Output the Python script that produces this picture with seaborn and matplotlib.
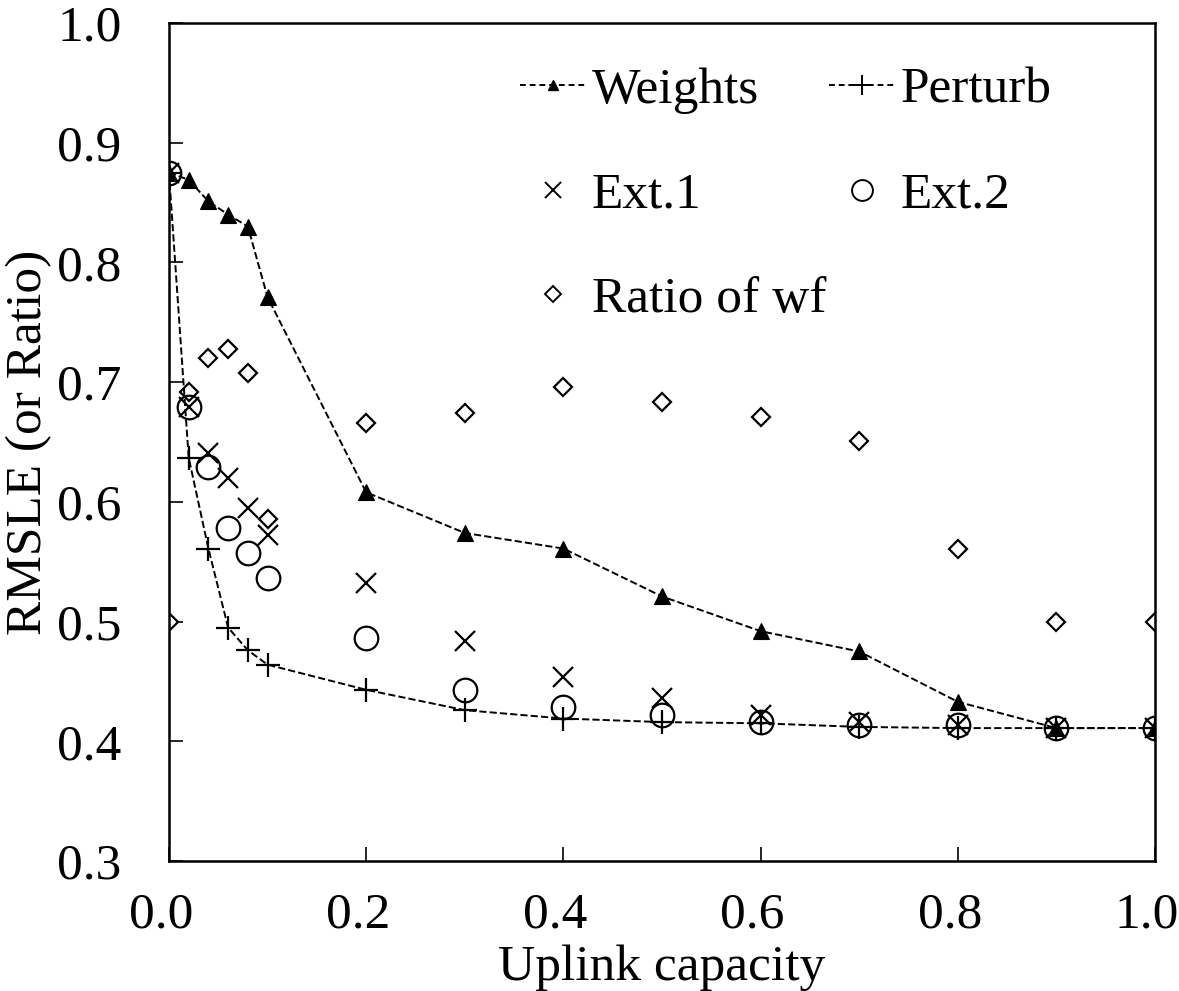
import matplotlib
matplotlib.use("Agg")
import matplotlib.pyplot as plt
import matplotlib.transforms as mtransforms
import seaborn as sns
from matplotlib.lines import Line2D

sns.set_theme(style="white")
plt.rcParams["font.family"] = ["Liberation Serif", "DejaVu Serif"]
plt.rcParams["text.color"] = "black"
plt.rcParams["axes.labelcolor"] = "black"
plt.rcParams["xtick.color"] = "black"
plt.rcParams["ytick.color"] = "black"

# x positions (uplink capacity)
capacity = [0.0, 0.02, 0.04, 0.06, 0.08, 0.1, 0.2, 0.3, 0.4, 0.5, 0.6, 0.7, 0.8, 0.9, 1.0]

weights = [0.875, 0.869, 0.851, 0.840, 0.830, 0.771, 0.608, 0.574, 0.561, 0.521,
           0.492, 0.475, 0.433, 0.411, 0.411]
perturb = [0.875, 0.637, 0.561, 0.495, 0.476, 0.464, 0.443, 0.426, 0.419, 0.416,
           0.415, 0.412, 0.411, 0.411, 0.411]
ext1 = [0.875, 0.679, 0.641, 0.620, 0.595, 0.572, 0.532, 0.484, 0.454, 0.436,
        0.422, 0.416, 0.414, 0.411, 0.411]
ext2 = [0.875, 0.679, 0.629, 0.578, 0.557, 0.536, 0.486, 0.443, 0.429, 0.422,
        0.416, 0.414, 0.414, 0.411, 0.411]
ratio_wf = [0.500, 0.692, 0.720, 0.728, 0.708, 0.586, 0.666, 0.674, 0.696, 0.683,
            0.671, 0.651, 0.561, 0.500, 0.500]

x_ticks = [0.0, 0.2, 0.4, 0.6, 0.8, 1.0]
y_ticks = [0.3, 0.4, 0.5, 0.6, 0.7, 0.8, 0.9, 1.0]

FS = 37
fig = plt.figure(figsize=(11.79, 9.91), dpi=100)
ax = fig.add_axes([0.1433, 0.1312, 0.8363, 0.8456])

dash = dict(linestyle="--", dashes=(3, 2), linewidth=1.4, color="black")

sns.lineplot(x=capacity, y=ratio_wf, marker="D", linestyle="", markersize=9,
             markerfacecolor="white", markeredgecolor="black", markeredgewidth=1.6,
             color="black", ax=ax)
sns.lineplot(x=capacity, y=ext2, marker="o", linestyle="", markersize=17,
             markerfacecolor="none", markeredgecolor="black", markeredgewidth=1.6,
             color="black", ax=ax)
sns.lineplot(x=capacity, y=ext1, marker="x", linestyle="", markersize=15,
             markeredgecolor="black", markeredgewidth=1.6, color="black", ax=ax)
sns.lineplot(x=capacity, y=perturb, marker="+", markersize=17,
             markeredgecolor="black", markeredgewidth=1.6, ax=ax, **dash)
sns.lineplot(x=capacity, y=weights, marker="^", markersize=11,
             markeredgecolor="black", markeredgewidth=0.8, markerfacecolor="black",
             ax=ax, **dash)

ax.set_xlim(0, 1.0)
ax.set_ylim(0.3, 1.0)
ax.set_xticks(x_ticks)
ax.set_yticks(y_ticks)
ax.set_xticklabels([f"{t:.1f}" for t in x_ticks], fontsize=FS)
ax.set_yticklabels([f"{t:.1f}" for t in y_ticks], fontsize=FS)
ax.tick_params(axis="x", direction="in", length=10, width=1.2, pad=22, bottom=True)
ax.tick_params(axis="y", direction="in", length=10, width=1.2, pad=34, left=True)
# tick labels in the reference sit slightly left of their ticks
shift = mtransforms.ScaledTranslation(-8 / 100, 0, fig.dpi_scale_trans)
for lbl in ax.get_xticklabels():
    lbl.set_transform(lbl.get_transform() + shift)
for s in ax.spines.values():
    s.set_color("black")
    s.set_linewidth(1.8)
ax.set_xlabel("Uplink capacity", fontsize=FS, labelpad=5)
ax.set_ylabel("RMSLE (or Ratio)", fontsize=FS, labelpad=4)

handles = [
    Line2D([], [], marker="^", markersize=7, markerfacecolor="black",
           markeredgecolor="black", **dash),
    Line2D([], [], marker="x", linestyle="", markersize=11, markeredgewidth=1.4, color="black"),
    Line2D([], [], marker="D", linestyle="", markersize=8, markerfacecolor="white",
           markeredgecolor="black", markeredgewidth=1.4),
    Line2D([], [], marker="+", markersize=14, markeredgewidth=1.4,
           markeredgecolor="black", **dash),
    Line2D([], [], marker="o", linestyle="", markersize=15, markerfacecolor="none",
           markeredgecolor="black", markeredgewidth=1.4),
]
labels = ["Weights", "Ext.1", "Ratio of wf", "Perturb", "Ext.2"]
ax.legend(handles, labels, ncol=2, loc="upper left", bbox_to_anchor=(0.335, 0.972),
          frameon=False, fontsize=FS, handlelength=1.3, handletextpad=0.1,
          labelspacing=1.12, columnspacing=0.05, borderaxespad=0)

fig.savefig("out.png", dpi=100)
